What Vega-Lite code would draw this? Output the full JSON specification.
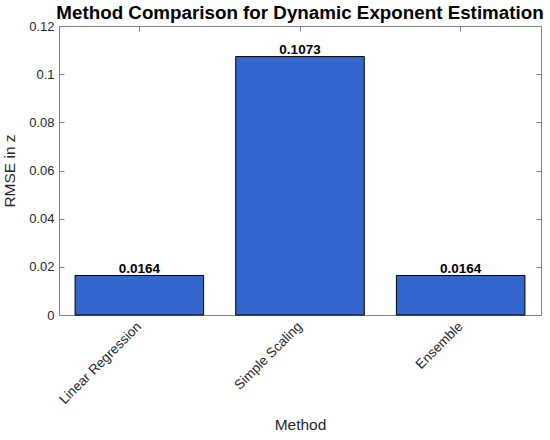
{
  "$schema": "https://vega.github.io/schema/vega-lite/v6.json",
  "autosize": "none",
  "width": 482,
  "height": 289,
  "padding": {"left": 59, "top": 26, "right": 9, "bottom": 125},
  "background": "white",
  "title": {
    "text": "Method Comparison for Dynamic Exponent Estimation",
    "fontSize": 18.8,
    "fontWeight": "bold",
    "font": "Liberation Sans",
    "color": "black",
    "offset": -3
  },
  "data": {
    "values": [
      {"Method": "Linear Regression", "rmse": 0.0164},
      {"Method": "Simple Scaling", "rmse": 0.1073},
      {"Method": "Ensemble", "rmse": 0.0164}
    ]
  },
  "encoding": {
    "x": {
      "field": "Method",
      "type": "nominal",
      "sort": null,
      "scale": {"paddingInner": 0.2, "paddingOuter": 0.1}
    },
    "y": {
      "field": "rmse",
      "type": "quantitative",
      "scale": {"domain": [0, 0.12], "nice": false}
    }
  },
  "layer": [
    {
      "mark": {"type": "bar", "color": "#3366cc", "stroke": "black", "strokeWidth": 1},
      "encoding": {
        "x": {
          "field": "Method",
          "type": "nominal",
          "sort": null,
          "axis": {
            "orient": "bottom",
            "title": "Method",
            "titleFontSize": 15.5,
            "titleFontWeight": "normal",
            "titleColor": "#262626",
            "titlePadding": 11,
            "labelAngle": -45,
            "labelAlign": "right",
            "labelBaseline": "middle",
            "labelFontSize": 13.5,
            "labelColor": "#262626",
            "labelPadding": 14,
            "labelDx": 11,
            "labelDy": 5,
            "tickSize": -5,
            "tickColor": "#808080",
            "domainColor": "#808080"
          }
        },
        "y": {
          "field": "rmse",
          "type": "quantitative",
          "axis": {
            "orient": "left",
            "title": "RMSE in z",
            "titleFontSize": 15.5,
            "titleFontWeight": "normal",
            "titleColor": "#262626",
            "titlePadding": 11,
            "values": [0, 0.02, 0.04, 0.06, 0.08, 0.1, 0.12],
            "labelExpr": "'' + datum.value",
            "labelFontSize": 13,
            "labelColor": "#262626",
            "labelPadding": 10,
            "tickSize": -5,
            "tickColor": "#808080",
            "domainColor": "#808080",
            "grid": false
          }
        }
      }
    },
    {
      "mark": {"type": "text", "baseline": "bottom", "dy": 0, "fontSize": 13.5, "fontWeight": "bold", "color": "black"},
      "encoding": {
        "text": {"field": "rmse", "type": "quantitative", "format": ".4f"},
        "x": {
          "field": "Method",
          "type": "nominal",
          "sort": null,
          "axis": {
            "orient": "top",
            "title": null,
            "labels": false,
            "tickSize": -5,
            "tickColor": "#808080",
            "domainColor": "#808080"
          }
        },
        "y": {
          "field": "rmse",
          "type": "quantitative",
          "axis": {
            "orient": "right",
            "title": null,
            "labels": false,
            "values": [0, 0.02, 0.04, 0.06, 0.08, 0.1, 0.12],
            "tickSize": -5,
            "tickColor": "#808080",
            "domainColor": "#808080",
            "grid": false
          }
        }
      }
    }
  ],
  "resolve": {"axis": {"x": "independent", "y": "independent"}},
  "config": {
    "font": "Liberation Sans",
    "view": {"stroke": null}
  }
}
